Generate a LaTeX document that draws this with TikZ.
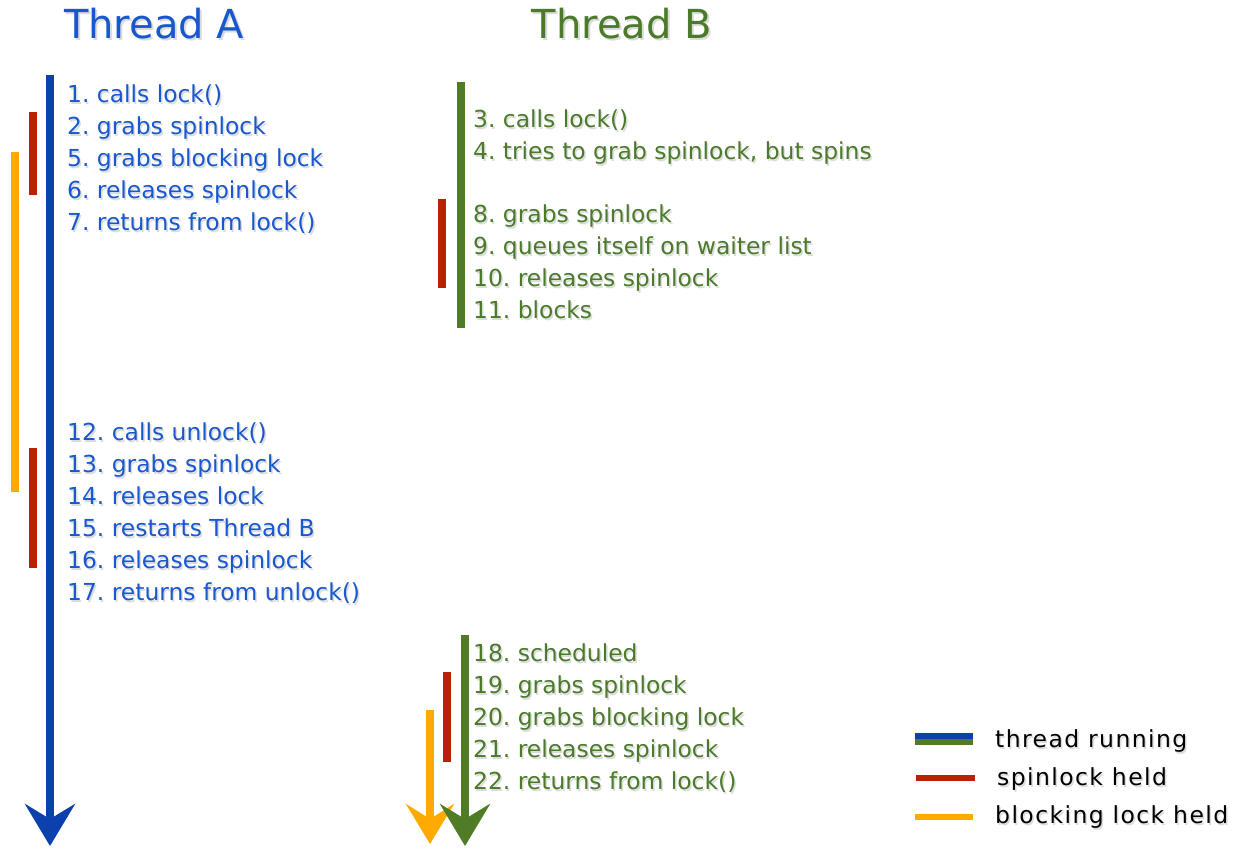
\documentclass[tikz,border=0pt]{standalone}
\usepackage{fontspec}
\setmainfont{DejaVu Sans}
\usetikzlibrary{arrows.meta}
\frenchspacing
\definecolor{bluetext}{RGB}{24,88,206}
\definecolor{blueline}{RGB}{12,64,172}
\definecolor{greentext}{RGB}{74,122,42}
\definecolor{greenline}{RGB}{80,124,40}
\definecolor{redline}{RGB}{186,32,4}
\definecolor{yellowline}{RGB}{255,170,0}
\newcommand\lbl[4]{%
  \node[txt,text=black,opacity=.14,xshift=1.5pt,yshift=-2.5pt] at (#2) {#4};
  \node[txt,text=#3] (#1) at (#2) {#4};}
\newcommand\lgd[3]{%
  \node[lgtxt,text=black,opacity=.14,xshift=1.5pt,yshift=-2.5pt] at (#2) {#3};
  \node[lgtxt] (#1) at (#2) {#3};}
\newcommand\ttl[4]{%
  \node[titletxt,text=black,opacity=.14,xshift=2pt,yshift=-3pt] at (#2) {#4};
  \node[titletxt,text=#3] (#1) at (#2) {#4};}
\begin{document}
\begin{tikzpicture}[x=1pt,y=-1pt,
  txt/.style={anchor=base west,inner sep=0pt,font=\fontsize{23.4}{28}\selectfont\frenchspacing},
  lgtxt/.style={anchor=base west,inner sep=0pt,text=black,font=\fontsize{23.5}{27}\selectfont\addfontfeature{LetterSpace=6}},
  titletxt/.style={anchor=base,inner sep=0pt,font=\fontsize{40}{46}\selectfont},
  bar/.style={line width=7.5pt},
  tip/.style={-{Stealth[length=42pt,width=50pt,inset=15pt]}},
  tipb/.style={-{Stealth[length=40pt,width=48pt,inset=15pt]}}]
\useasboundingbox (0,0) rectangle (1244,851);

% titles
\ttl{tA}{154,38}{bluetext}{Thread A}
\ttl{tB}{622,38}{greentext}{Thread B}

% coordinates for bars
\coordinate (a0) at (50,75);   \coordinate (a1) at (50,846);
\coordinate (ra0) at (33,112); \coordinate (ra1) at (33,195);
\coordinate (ya0) at (15,152); \coordinate (ya1) at (15,492);
\coordinate (rb0) at (33,448); \coordinate (rb1) at (33,568);
\coordinate (b0) at (461,82);  \coordinate (b1) at (461,328);
\coordinate (rc0) at (442,199);\coordinate (rc1) at (442,288);
\coordinate (c0) at (465,635); \coordinate (c1) at (465,846);
\coordinate (rd0) at (447,672);\coordinate (rd1) at (447,762);
\coordinate (yb0) at (430,710);\coordinate (yb1) at (430,844);

% thread A
\draw[bar,blueline,tip] (a0) -- (a1);
\draw[bar,redline] (ra0) -- (ra1);
\draw[bar,yellowline] (ya0) -- (ya1);
\draw[bar,redline] (rb0) -- (rb1);

% thread B
\draw[bar,greenline] (b0) -- (b1);
\draw[bar,redline] (rc0) -- (rc1);
\draw[bar,yellowline,tipb] (yb0) -- (yb1);
\draw[bar,greenline,tip] (c0) -- (c1);
\draw[bar,redline] (rd0) -- (rd1);

% thread A texts
\lbl{s1}{67,102}{bluetext}{1. calls lock()}
\lbl{s2}{67,134}{bluetext}{2. grabs spinlock}
\lbl{s5}{67,166}{bluetext}{5. grabs blocking lock}
\lbl{s6}{67,198}{bluetext}{6. releases spinlock}
\lbl{s7}{67,230}{bluetext}{7. returns from lock()}
\lbl{s12}{67,440}{bluetext}{12. calls unlock()}
\lbl{s13}{67,472}{bluetext}{13. grabs spinlock}
\lbl{s14}{67,504}{bluetext}{14. releases lock}
\lbl{s15}{67,536}{bluetext}{15. restarts Thread B}
\lbl{s16}{67,568}{bluetext}{16. releases spinlock}
\lbl{s17}{67,600}{bluetext}{17. returns from unlock()}

% thread B texts
\lbl{s3}{473,127}{greentext}{3. calls lock()}
\lbl{s4}{473,159}{greentext}{4. tries to grab spinlock, but spins}
\lbl{s8}{473,222}{greentext}{8. grabs spinlock}
\lbl{s9}{473,254}{greentext}{9. queues itself on waiter list}
\lbl{s10}{473,286}{greentext}{10. releases spinlock}
\lbl{s11}{473,318}{greentext}{11. blocks}
\lbl{s18}{473,661}{greentext}{18. scheduled}
\lbl{s19}{473,693}{greentext}{19. grabs spinlock}
\lbl{s20}{473,725}{greentext}{20. grabs blocking lock}
\lbl{s21}{473,757}{greentext}{21. releases spinlock}
\lbl{s22}{473,789}{greentext}{22. returns from lock()}

% legend
\coordinate (lg1a) at (915,736); \coordinate (lg1b) at (973,736);
\coordinate (lg2a) at (915,742); \coordinate (lg2b) at (973,742);
\coordinate (lg3a) at (916,778); \coordinate (lg3b) at (975,778);
\coordinate (lg4a) at (915,817); \coordinate (lg4b) at (973,817);
\draw[line width=6pt,blueline] (lg1a) -- (lg1b);
\draw[line width=6pt,greenline] (lg2a) -- (lg2b);
\draw[line width=6pt,redline] (lg3a) -- (lg3b);
\draw[line width=6pt,yellowline] (lg4a) -- (lg4b);
\lgd{l1}{995,747}{thread running}
\lgd{l2}{997,785}{spinlock held}
\lgd{l3}{995,823}{blocking lock held}
\end{tikzpicture}
\end{document}
